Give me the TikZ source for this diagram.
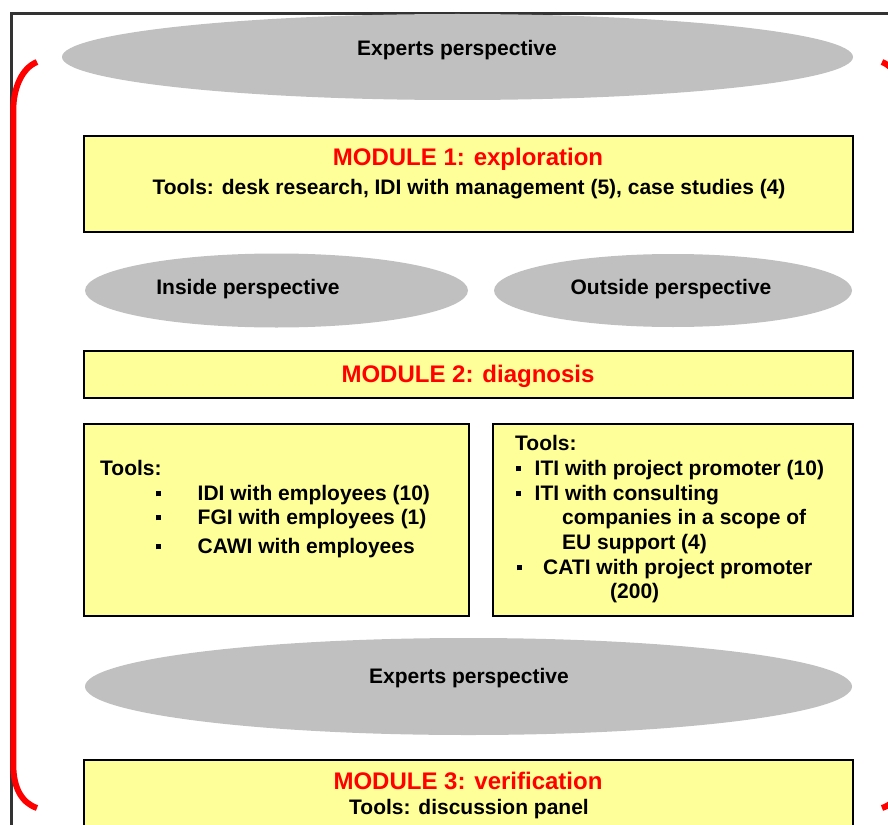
\documentclass[tikz,border=0pt]{standalone}
\usepackage{fontspec}
\setmainfont{Liberation Sans}
\usetikzlibrary{shapes.geometric}
\definecolor{boxyellow}{HTML}{FFFF99}
\definecolor{perspgray}{HTML}{C0C0C0}
\definecolor{framegray}{HTML}{333333}
\newcommand{\sqbul}{\rule[0.2em]{4.5pt}{5.5pt}}

\begin{document}
\begin{tikzpicture}[x=1pt, y=-1pt, font=\fontsize{21}{25}\selectfont\bfseries,
  modbox/.style={draw, line width=2.4pt, fill=boxyellow, rectangle, inner sep=0pt},
  persp/.style={ellipse, fill=perspgray, inner sep=0pt},
  lbl/.style={inner sep=0pt, text height=0.72em, text depth=0pt},
  modtitle/.style={lbl, text=red, font=\fontsize{24}{28}\selectfont\bfseries},
  item/.style={lbl, anchor=west}]
  \useasboundingbox (0,0) rectangle (888,824);
  \clip (0,0) rectangle (888,824);
  \draw[framegray, line width=2.7pt] (11.3,13.5) rectangle (900,850);
  \draw[red, line width=6pt] (37,62) .. controls (22,68) and (13.3,88) .. (13.3,110) -- (13.3,765) .. controls (13.3,788) and (22,803) .. (37,808);
  \draw[red, line width=6pt] (882,62) .. controls (897,68) and (906,88) .. (906,110) -- (906,765) .. controls (906,788) and (897,803) .. (882,808);
  \node[persp, minimum width=791pt, minimum height=86pt] (expTop) at (457.5,57) {};
  \node[lbl] (expTopTxt) at (457,52) {Experts perspective};
  \node[modbox, minimum width=769pt, minimum height=96pt] (mod1) at (468.5,184) {};
  \node[modtitle] (mod1Title) at (468,162) {MODULE 1: exploration};
  \node[lbl] (mod1Tools) at (469,191) {Tools: desk research, IDI with management (5), case studies (4)};
  \node[persp, minimum width=383pt, minimum height=74pt] (inside) at (276.5,290.5) {};
  \node[lbl] (insideTxt) at (248,291) {Inside perspective};
  \node[persp, minimum width=358pt, minimum height=73pt] (outside) at (673,290.5) {};
  \node[lbl] (outsideTxt) at (671,291) {Outside perspective};
  \node[modbox, minimum width=769pt, minimum height=47pt] (mod2) at (468.5,374.5) {};
  \node[modtitle] (mod2Title) at (468,379) {MODULE 2: diagnosis};
  \node[modbox, minimum width=385pt, minimum height=192pt] (toolsIn) at (276.5,520) {};
  \node[item] (inTools) at (100,472) {Tools:};
  \node[item] (inIDI) at (156,497) {\sqbul\hspace{37pt}IDI with employees (10)};
  \node[item] (inFGI) at (156,521) {\sqbul\hspace{37pt}FGI with employees (1)};
  \node[item] (inCAWI) at (156,550) {\sqbul\hspace{37pt}CAWI with employees};
  \node[modbox, minimum width=360pt, minimum height=192pt] (toolsOut) at (673,520) {};
  \node[item] (outTools) at (515,447) {Tools:};
  \node[item] (outITI) at (516,472) {\sqbul\hspace{14pt}ITI with project promoter (10)};
  \node[item] (outCons) at (516,497) {\sqbul\hspace{14pt}ITI with consulting};
  \node[item] (outCons2) at (562,521) {companies in a scope of};
  \node[item] (outCons3) at (562,546) {EU support (4)};
  \node[item] (outCATI) at (517,571) {\sqbul\hspace{21.5pt}CATI with project promoter};
  \node[item] (outCATI2) at (610,595) {(200)};
  \node[persp, minimum width=767pt, minimum height=97pt] (expBot) at (468.5,686.5) {};
  \node[lbl] (expBotTxt) at (469,680) {Experts perspective};
  \node[modbox, minimum width=769pt, minimum height=90pt] (mod3) at (468.5,805) {};
  \node[modtitle] (mod3Title) at (468,786) {MODULE 3: verification};
  \node[lbl] (mod3Tools) at (469,811) {Tools: discussion panel};
\end{tikzpicture}
\end{document}
